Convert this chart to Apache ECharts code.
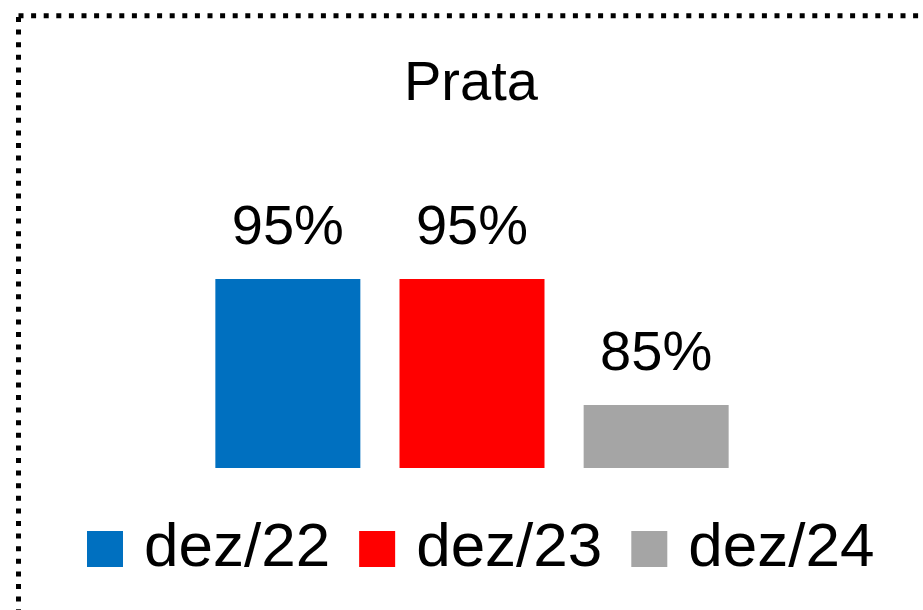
<!DOCTYPE html>
<html>
<head>
<meta charset="utf-8">
<script src="https://cdn.jsdelivr.net/npm/echarts@6/dist/echarts.min.js"></script>
<style>
    html, body { margin: 0; padding: 0; background: #fff; }
    #main { width: 923px; height: 610px; }
</style>
</head>
<body>
<div id="main"></div>
<script>
var titleText = 'Prata';
var categories = ['Prata'];
var seriesNames = ['dez/22', 'dez/23', 'dez/24'];
var seriesValues = [[95], [95], [85]];
var seriesColors = ['#0070C0', '#FF0000', '#A5A5A5'];

var font = 'Liberation Sans, Arial, sans-serif';

var series = [];
for (var i = 0; i < seriesNames.length; i++) {
    series.push({
        name: seriesNames[i],
        type: 'bar',
        data: seriesValues[i],
        barWidth: 145,
        barGap: '27%',
        itemStyle: { color: seriesColors[i] },
        label: {
            show: true,
            position: 'top',
            distance: 22,
            formatter: '{c}%',
            fontFamily: font,
            fontSize: 56,
            color: '#000'
        }
    });
}

var myChart = echarts.init(document.getElementById('main'));
var option = {
    animation: false,
    title: {
        text: titleText,
        left: 399,
        top: 52,
        textStyle: { fontFamily: font, fontSize: 56, fontWeight: 'normal', color: '#000' }
    },
    legend: {
        data: seriesNames,
        left: 82,
        top: 513,
        itemWidth: 36,
        itemHeight: 36,
        itemGap: 29,
        icon: 'rect',
        textStyle: { fontFamily: font, fontSize: 62, color: '#000', padding: [0, 0, 0, 16] }
    },
    grid: { left: 21, right: 0, top: 216, bottom: 142 },
    xAxis: { type: 'category', data: categories, show: false },
    yAxis: { type: 'value', min: 80, max: 100, show: false },
    graphic: [{
        type: 'rect',
        shape: { x: 18.5, y: 15.8, width: 960, height: 700 },
        style: { fill: null, stroke: '#000', lineWidth: 5, lineDash: [5, 7.6] },
        silent: true
    }],
    series: series
};
myChart.setOption(option);
</script>
</body>
</html>
